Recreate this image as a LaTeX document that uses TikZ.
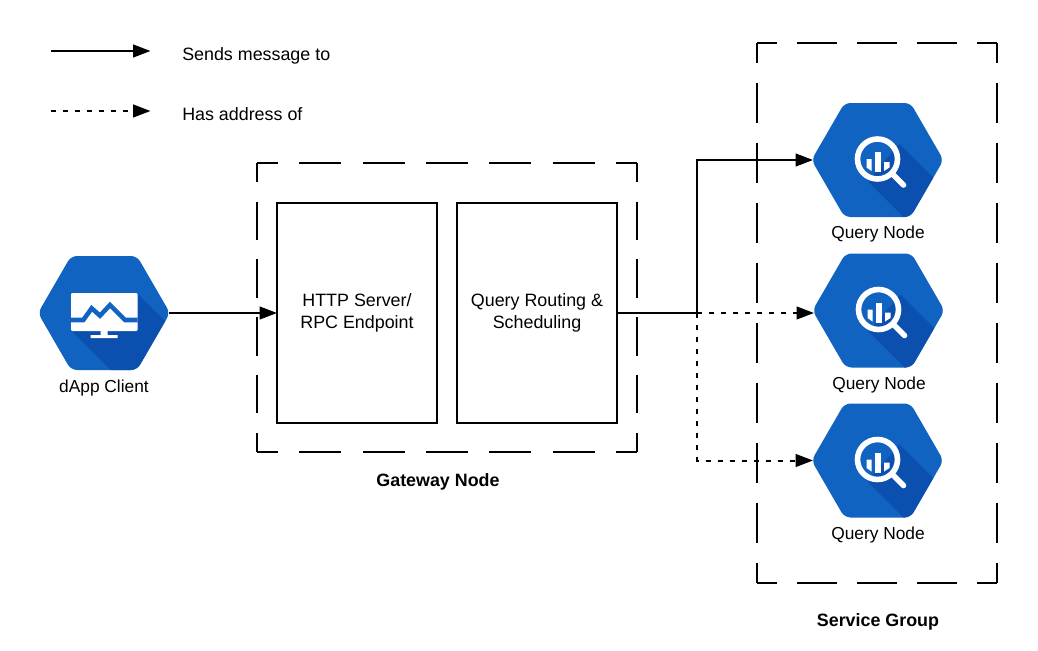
\documentclass[tikz,border=0pt]{standalone}
\usepackage{fontspec}
\setmainfont{Liberation Sans}
\usetikzlibrary{arrows.meta,positioning,calc}
\definecolor{hexblue}{HTML}{1163C1}
\definecolor{hexshade}{HTML}{0B50AE}
\newcommand{\hexpath}{(-66,0) -- (-33,-57) -- (33,-57) -- (66,0) -- (33,57) -- (-33,57) -- cycle}
\tikzset{
  querygly/.pic={
    \fill[hexblue, rounded corners=4.5pt] \hexpath;
    \begin{scope}
      \clip[rounded corners=4.5pt] \hexpath;
      \fill[hexshade] (22,-16) -- (70,32) -- (70,62) -- (31,62) -- (-10,21) -- cycle;
    \end{scope}
    \draw[white, line width=4.2pt] (0,-1) circle (20);
    \draw[white, line width=4.2pt, line cap=round] (15,14) -- (26,25);
    \fill[white] (-11,-1) -- (-6,-1) -- (-6,11) -- (-11,7.5) -- cycle;
    \fill[white] (-2.5,-8) rectangle (3.5,12);
    \fill[white] (6.5,2) -- (12,2) -- (12,7.5) -- (6.5,11) -- cycle;
  },
  clientgly/.pic={
    \fill[hexblue, rounded corners=4.5pt] \hexpath;
    \begin{scope}
      \clip[rounded corners=4.5pt] \hexpath;
      \fill[hexshade] (33,-20) -- (73,20) -- (73,62) -- (12,62) -- (-33,17) -- cycle;
    \end{scope}
    \fill[white, rounded corners=0.8pt] (-33,-20) rectangle (33.5,18);
    \draw[hexblue, line width=3.4pt] (-33,7) -- (-20.7,7) -- (-12.3,-4.7) -- (-4,2.7) -- (6,-8) -- (21,7) -- (33.5,7);
    \fill[white] (-3.5,18) rectangle (3.5,22) (-13.5,22) rectangle (13.5,25);
  }
}
\begin{document}
\begin{tikzpicture}[
  x=0.75pt, y=-0.75pt,
  every node/.style={font=\fontsize{13.4}{16.5}\selectfont, align=center},
  hexbox/.style={minimum width=96.75pt, minimum height=85.5pt, inner sep=0pt, outer sep=0pt},
  hexlabel/.style={font=\fontsize{13}{16}\selectfont, inner sep=0pt},
  procbox/.style={draw, line width=1.5pt, minimum width=120pt, minimum height=165pt, inner sep=0pt, outer sep=0pt},
  groupbox/.style={minimum width=#1, inner sep=0pt, outer sep=0pt},
  grouplabel/.style={font=\fontsize{13.4}{16.5}\selectfont\bfseries, inner sep=0pt},
  sendline/.style={line width=1.5pt, -{Triangle[length=13pt,width=9.5pt]}},
  addrline/.style={line width=1.5pt, dash pattern=on 3.75pt off 5.25pt, -{Triangle[length=13pt,width=9.5pt]}},
  grouph/.style={line width=1.5pt, dash pattern=on #1 off 0.5*#1, dash phase=0.5*#1},
  legendtext/.style={inner sep=0pt, anchor=base west}
]
\useasboundingbox (0,0) rectangle (1038,650);
% legend
\coordinate (sendstart) at (51,51);
\coordinate (addrstart) at (51,111);
\node[legendtext] (sendtext) at (182,60) {Sends message to};
\node[legendtext] (addrtext) at (182,120) {Has address of};
\coordinate (sendend) at (150.5,51);
\coordinate (addrend) at (150.5,111);
\draw[sendline] (sendstart) -- (sendend);
\draw[addrline] (addrstart) -- (addrend);
% gateway
\node[groupbox=285pt, minimum height=216.75pt] (gateway) at (447,307.5) {};
\draw[grouph=31.67pt] (gateway.north west) -- (gateway.north east);
\draw[grouph=31.67pt] (gateway.south west) -- (gateway.south east);
\draw[grouph=28.9pt] (gateway.north west) -- (gateway.south west);
\draw[grouph=28.9pt] (gateway.north east) -- (gateway.south east);
\node[procbox] (http) at (357,313) {HTTP Server/\\RPC Endpoint};
\node[procbox] (routing) at (537,313) {Query Routing \&\\Scheduling};
\node[grouplabel] (gatewaytext) at (438,482) {Gateway Node};
% service group
\node[groupbox=180pt, minimum height=405pt] (service) at (877,313) {};
\draw[grouph=30pt] (service.north west) -- (service.north east);
\draw[grouph=30pt] (service.south west) -- (service.south east);
\draw[grouph=30pt] (service.north west) -- (service.south west);
\draw[grouph=30pt] (service.north east) -- (service.south east);
\node[grouplabel] (servicetext) at (878,622) {Service Group};
% icons
\node[hexbox] (client) at (104,313) {};
\pic at (client) {clientgly};
\node[hexbox] (queryA) at (877.5,160) {};
\pic at (queryA) {querygly};
\node[hexbox] (queryB) at (878.5,310.5) {};
\pic at (queryB) {querygly};
\node[hexbox] (queryC) at (877.5,460.5) {};
\pic at (queryC) {querygly};
\node[hexlabel] (clienttext) at (104,388) {dApp Client};
\node[hexlabel] (queryAtext) at (878,234) {Query Node};
\node[hexlabel] (queryBtext) at (879,385) {Query Node};
\node[hexlabel] (queryCtext) at (878,535) {Query Node};
% connectors
\coordinate (branch) at (697,313);
\draw[addrline] (branch) -- (queryB.west |- branch);
\draw[addrline] (branch) |- (queryC.west);
\draw[line width=1.5pt] (routing.east) -- (branch);
\draw[sendline] (branch) |- (queryA.west);
\draw[sendline] (client.east) -- (http.west);
\end{tikzpicture}
\end{document}
